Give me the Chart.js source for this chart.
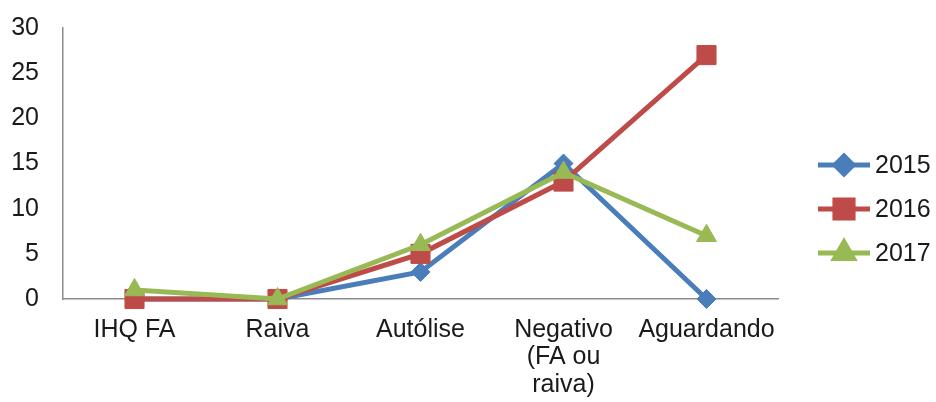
<!DOCTYPE html>
<html>
<head>
<meta charset="utf-8">
<script src="https://cdn.jsdelivr.net/npm/chart.js@4/dist/chart.umd.min.js"></script>
<style>
  html, body { margin: 0; padding: 0; background: #fff; }
  #wrap { width: 936px; height: 402px; }
</style>
</head>
<body>
<div id="wrap"><canvas id="chart" width="936" height="402"></canvas></div>
<script>
const categories = ['IHQ FA', 'Raiva', 'Autólise', ['Negativo', '(FA ou', 'raiva)'], 'Aguardando'];
const years = ['2015', '2016', '2017'];
const values2015 = [0, 0, 3, 15, 0];
const values2016 = [0, 0, 5, 13, 27];
const values2017 = [1, 0, 6, 14, 7];
const yTicks = [0, 5, 10, 15, 20, 25, 30];

const colors = ['#4a7ebb', '#be4b48', '#98b954'];
const shapes = ['rectRot', 'rect', 'triangle'];
const radii = [9.5, 13.5, 11.5];
const FONT = "'Liberation Sans', Arial, sans-serif";
const FONT_SIZE = 25;

// legend with line + marker, like the spreadsheet one
const lineLegend = {
  id: 'lineLegend',
  afterDraw(chart) {
    const ctx = chart.ctx;
    const area = chart.chartArea;
    const x0 = area.right + 40;
    chart.data.datasets.forEach((ds, i) => {
      const y = area.top + 137 + i * 44;
      ctx.save();
      ctx.strokeStyle = ds.borderColor;
      ctx.lineWidth = 5;
      ctx.beginPath();
      ctx.moveTo(x0, y);
      ctx.lineTo(x0 + 52, y);
      ctx.stroke();
      Chart.helpers.drawPoint(ctx, {
        pointStyle: ds.pointStyle,
        radius: ds.pointRadius * 0.95,
        borderWidth: 1
      }, x0 + 26, y);
      ctx.fillStyle = ds.borderColor;
      ctx.fill();
      ctx.fillStyle = '#1a1a1a';
      ctx.font = FONT_SIZE + 'px ' + FONT;
      ctx.textBaseline = 'middle';
      ctx.fillText(ds.label, x0 + 57, y + 1);
      ctx.restore();
    });
  }
};

const seriesValues = [values2015, values2016, values2017];

new Chart(document.getElementById('chart'), {
  type: 'line',
  data: {
    labels: categories,
    datasets: years.map((yr, i) => ({
      label: yr,
      data: seriesValues[i],
      borderColor: colors[i],
      backgroundColor: colors[i],
      pointBackgroundColor: colors[i],
      pointBorderColor: colors[i],
      pointStyle: shapes[i],
      pointRadius: radii[i],
      pointBorderWidth: 1,
      borderWidth: 5,
      tension: 0,
      clip: false,
      order: 2 - i
    }))
  },
  options: {
    responsive: false,
    animation: false,
    layout: { padding: { top: 28, right: 158, left: 0, bottom: 0 } },
    plugins: { legend: { display: false }, tooltip: { enabled: false } },
    scales: {
      x: {
        offset: true,
        grid: { display: true, drawOnChartArea: false, drawTicks: false, offset: true },
        border: { display: true, color: '#8c8c8c', width: 1.5 },
        ticks: {
          color: '#1a1a1a',
          padding: 17,
          maxRotation: 0,
          autoSkip: false,
          font: { family: FONT, size: FONT_SIZE, lineHeight: 1.1 }
        },
        afterFit(scale) {
          scale.height = 103;
          scale.paddingLeft = 0;
          scale.paddingRight = 0;
        }
      },
      y: {
        min: 0,
        max: 30,
        afterBuildTicks(scale) { scale.ticks = yTicks.map(v => ({ value: v })); },
        grid: { display: true, drawOnChartArea: false, drawTicks: false },
        border: { display: true, color: '#8c8c8c', width: 1.5 },
        ticks: {
          color: '#1a1a1a',
          padding: 24,
          font: { family: FONT, size: FONT_SIZE }
        },
        afterFit(scale) {
          scale.width = 63;
          scale.paddingTop = 0;
          scale.paddingBottom = 0;
        }
      }
    }
  },
  plugins: [lineLegend]
});
</script>
</body>
</html>
